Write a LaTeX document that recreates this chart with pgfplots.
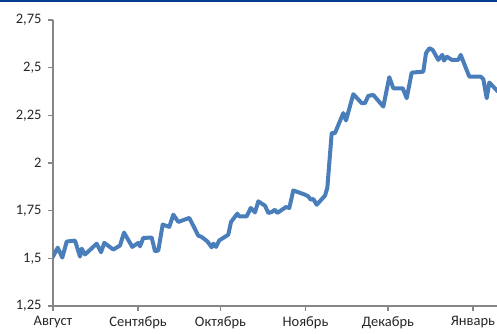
\documentclass[border=0pt]{standalone}
\usepackage{pgfplots}
\pgfplotsset{compat=1.18}
\usepackage{fontspec}
\setmainfont{Carlito}
\definecolor{band}{RGB}{0,61,140}
\definecolor{linec}{RGB}{74,126,187}
\definecolor{axc}{RGB}{134,134,134}
\begin{document}
\begin{tikzpicture}[x=1pt,y=1pt]
\useasboundingbox (0,0) rectangle (497,334);
\fill[band] (0,331.5) rectangle (497,334);
\begin{axis}[
  at={(53pt,28pt)}, anchor=south west,
  scale only axis, width=444pt, height=286pt,
  xmin=0, xmax=161.75, ymin=1.25, ymax=2.75,
  axis x line*=bottom, axis y line*=left,
  axis line style={axc, line width=1.5pt},
  every outer x axis line/.append style={-}, every outer y axis line/.append style={-},
  xtick={0,31,61,92,122,153},
  xticklabels={Август,Сентябрь,Октябрь,Ноябрь,Декабрь,Январь},
  ytick={1.25,1.5,1.75,2,2.25,2.5,2.75},
  tick align=outside, major tick length=5pt,
  tick style={axc, line width=1.5pt},
  /pgf/number format/.cd, use comma, fixed, precision=2, assume math mode=true,
  /pgfplots/.cd,
  tick label style={font=\fontsize{14.5}{16}\selectfont, text=black!85},
  yticklabel style={xshift=-3pt},
  xticklabel style={yshift=-2pt},
  clip=true,
]
\addplot[linec, line width=4pt, line join=round, line cap=round] coordinates {
(0,1.509) (1.71,1.556) (3.39,1.504) (4.99,1.588) (8.01,1.593) (9.84,1.509)
(10.46,1.551) (11.66,1.520) (15.92,1.577) (17.49,1.532) (18.69,1.581)
(21.97,1.546) (24.41,1.567) (25.87,1.635) (28.89,1.560) (31.07,1.581)
(31.69,1.563) (32.90,1.607) (35.96,1.609) (37.16,1.537) (38.36,1.541)
(39.96,1.677) (42.37,1.665) (43.83,1.729) (45.65,1.691) (49.65,1.712)
(52.93,1.619) (54.17,1.612) (56.21,1.589) (57.81,1.558) (58.40,1.577)
(59.38,1.560) (60.58,1.594) (63.86,1.624) (64.85,1.691) (67.14,1.734)
(67.87,1.720) (70.56,1.720) (72.02,1.764) (73.59,1.741) (74.79,1.799)
(77.23,1.776) (78.43,1.738) (79.67,1.743) (80.87,1.755) (81.71,1.738)
(84.88,1.769) (86.08,1.764) (87.54,1.856) (91.80,1.834) (93.01,1.825)
(93.88,1.808) (94.83,1.811) (96.07,1.781) (99.09,1.829) (99.93,1.869)
(101.53,2.157) (102.73,2.157) (105.76,2.262) (106.74,2.223) (109.40,2.361)
(112.46,2.314) (113.66,2.314) (114.86,2.352) (116.68,2.357) (120.33,2.296)
(122.51,2.450) (123.97,2.392) (127.40,2.392) (128.85,2.340) (130.67,2.474)
(134.90,2.479) (135.88,2.576) (137.09,2.602) (138.32,2.593) (140.36,2.541)
(141.82,2.567) (142.44,2.537) (143.42,2.558) (145.25,2.541) (147.65,2.541)
(148.52,2.567) (151.66,2.453) (155.81,2.453) (156.76,2.440) (158.00,2.340)
(158.94,2.422) (162.1,2.375)
};
\end{axis}
\end{tikzpicture}
\end{document}
